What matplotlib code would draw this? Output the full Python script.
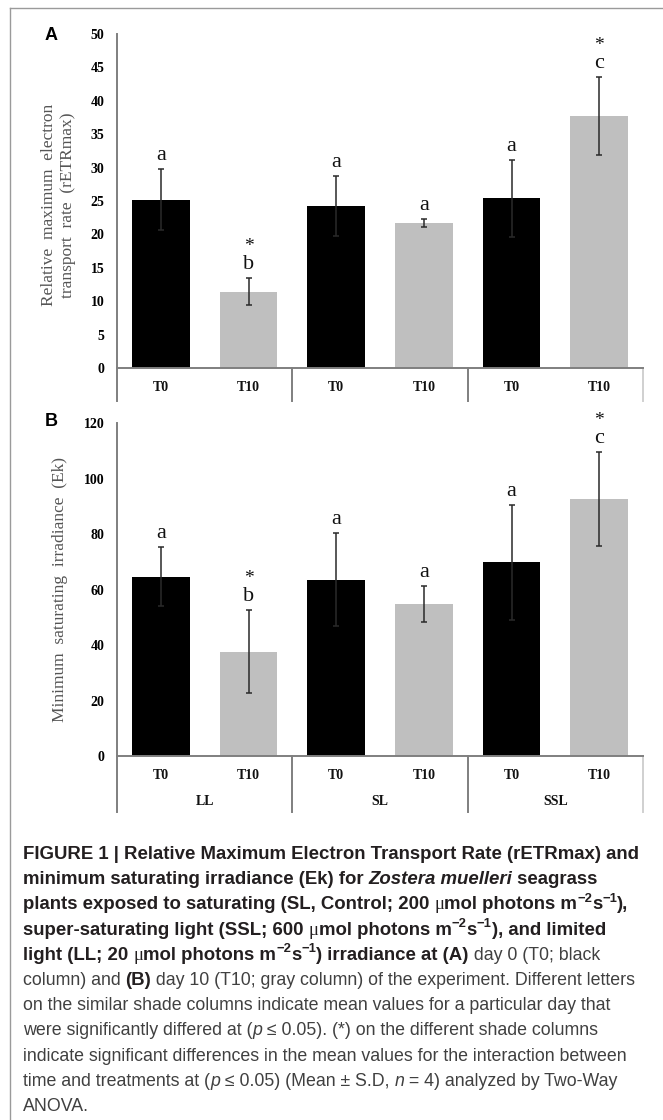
import numpy as np
import matplotlib
matplotlib.use("Agg")
import matplotlib.pyplot as plt
from matplotlib.lines import Line2D
from matplotlib.font_manager import FontProperties

# data
slots = ["T0", "T10", "T0", "T10", "T0", "T10"]
groups = ["LL", "SL", "SSL"]

retr_mean = [25.2, 11.4, 24.2, 21.7, 25.4, 37.7]
retr_sd = [4.6, 2.0, 4.5, 0.6, 5.8, 5.8]
retr_letters = ["a", "b", "a", "a", "a", "c"]
retr_star = [False, True, False, False, False, True]

ek_mean = [64.6, 37.6, 63.5, 54.8, 69.8, 92.5]
ek_sd = [10.6, 15.0, 16.8, 6.4, 20.7, 17.0]
ek_letters = ["a", "b", "a", "a", "a", "c"]
ek_star = [False, True, False, False, False, True]

bar_colors = ["#000000", "#bfbfbf"] * 3
SERIF = "Liberation Serif"
SANS = "Liberation Sans"

W, H = 663, 1120
fig = plt.figure(figsize=(W / 100, H / 100), dpi=100)


def px_axes(l, t, r, b):
    return fig.add_axes([l / W, 1 - b / H, (r - l) / W, (b - t) / H])


def panel(ax, means, sds, letters, stars, ymax, step, div_px, with_groups):
    x = np.arange(len(means))
    ax.bar(x, means, width=0.66, color=bar_colors, zorder=2)
    ax.errorbar(x, means, yerr=sds, fmt="none", ecolor="#2a2a2a",
                elinewidth=1.1, capsize=2, capthick=1.1, zorder=3)
    ax.set_xlim(-0.5, 5.5)
    ax.set_ylim(0, ymax)
    ax.set_yticks(np.arange(0, ymax + 1, step))
    ax.set_yticklabels([str(v) for v in np.arange(0, ymax + 1, step)],
                       family=SERIF, weight="bold", fontsize=10)
    ax.tick_params(axis="y", length=0, pad=9)
    ax.set_xticks([])
    for s in ["top", "right"]:
        ax.spines[s].set_visible(False)
    for s in ["left", "bottom"]:
        ax.spines[s].set_color("#7f7f7f")
        ax.spines[s].set_linewidth(1.4)

    trans = ax.get_xaxis_transform()
    ax_h = ax.get_position().height * H
    # category labels
    for i, lab in enumerate(slots):
        ax.annotate(lab, (i, 0), xycoords=trans, xytext=(0, -14),
                    textcoords="offset points", ha="center", va="center",
                    family=SERIF, weight="bold", fontsize=10, color="#111111")
    if with_groups:
        for g, lab in enumerate(groups):
            ax.annotate(lab, (2 * g + 0.5, 0), xycoords=trans, xytext=(0, -33),
                        textcoords="offset points", ha="center", va="center",
                        family=SERIF, weight="bold", fontsize=10, color="#111111")
    # group dividers
    for k, xd in enumerate([-0.5, 1.5, 3.5, 5.5]):
        col = "#d0d0d0" if k == 3 else "#7f7f7f"
        ax.plot([xd, xd], [0, -div_px / ax_h], transform=trans, color=col,
                lw=1.4, clip_on=False, zorder=1)

    # significance letters and stars
    for i in range(len(means)):
        top = means[i] + sds[i]
        ax.annotate(letters[i], (i, top), xytext=(0, 6.5), textcoords="offset points",
                    ha="center", va="baseline", family=SERIF, fontsize=16,
                    color="#111111", annotation_clip=False)
        if stars[i]:
            ax.annotate("*", (i, top), xytext=(0, 19.5), textcoords="offset points",
                        ha="center", va="baseline", family=SERIF, fontsize=14,
                        color="#111111", annotation_clip=False)


axA = px_axes(117, 34, 643, 368)
panel(axA, retr_mean, retr_sd, retr_letters, retr_star, 50, 5, 33, False)
axB = px_axes(117, 423, 643, 756)
panel(axB, ek_mean, ek_sd, ek_letters, ek_star, 120, 20, 56, True)

# y labels
ylab_kw = dict(rotation=90, ha="center", va="center", family=SERIF,
               fontsize=12.5, color="#555555")
fig.text(49 / W, 1 - 205 / H, "Relative  maximum  electron", **ylab_kw)
fig.text(68 / W, 1 - 205 / H, "transport  rate  (rETRmax)", **ylab_kw)
fig.text(60 / W, 1 - 590 / H, "Minimum  saturating  irradiance  (Ek)", **ylab_kw)

# panel letters
fig.text(51 / W, 1 - 36 / H, "A", family=SANS, weight="bold", fontsize=13,
         ha="center", va="center")
fig.text(51 / W, 1 - 422 / H, "B", family=SANS, weight="bold", fontsize=13,
         ha="center", va="center")

# frame
fig.add_artist(Line2D([10 / W, 1], [1 - 8 / H, 1 - 8 / H], color="#9a9a9a", lw=1))
fig.add_artist(Line2D([10 / W, 10 / W], [1 - 8 / H, 0], color="#9a9a9a", lw=1))

# caption
renderer = fig.canvas.get_renderer()


def seg_width(s, fp):
    t1 = fig.text(0, 0, "|" + s + "|", fontproperties=fp)
    t2 = fig.text(0, 0, "||", fontproperties=fp)
    w = t1.get_window_extent(renderer).width - t2.get_window_extent(renderer).width
    t1.remove()
    t2.remove()
    return w


line0 = "FIGURE 1 | Relative Maximum Electron Transport Rate (rETRmax) and"
line8 = "indicate significant differences in the mean values for the interaction between"
bsize = 10 * 618 / seg_width(line0, FontProperties(family=SANS, weight="bold", size=10))
rsize = 10 * 609 / seg_width(line8, FontProperties(family=SANS, size=10))

styles = {
    "B": (FontProperties(family=SANS, weight="bold", size=bsize), "#231f20", 0),
    "BI": (FontProperties(family=SANS, weight="bold", style="italic", size=bsize), "#231f20", 0),
    "S": (FontProperties(family=SANS, weight="bold", size=bsize * 0.7), "#231f20", bsize * 0.42),
    "M": (FontProperties(family=SERIF, size=bsize), "#231f20", 0),
    "R": (FontProperties(family=SANS, size=rsize), "#404040", 0),
    "I": (FontProperties(family=SANS, style="italic", size=rsize), "#404040", 0),
}

caption = [
    [("FIGURE 1 | Relative Maximum Electron Transport Rate (rETRmax) and", "B")],
    [("minimum saturating irradiance (Ek) for ", "B"), ("Zostera muelleri", "BI"), (" seagrass", "B")],
    [("plants exposed to saturating (SL, Control; 200 ", "B"), ("μ", "M"), ("mol photons m", "B"),
     ("−2", "S"), ("s", "B"), ("−1", "S"), ("),", "B")],
    [("super-saturating light (SSL; 600 ", "B"), ("μ", "M"), ("mol photons m", "B"),
     ("−2", "S"), ("s", "B"), ("−1", "S"), ("), and limited", "B")],
    [("light (LL; 20 ", "B"), ("μ", "M"), ("mol photons m", "B"), ("−2", "S"), ("s", "B"),
     ("−1", "S"), (") irradiance at (A)", "B"), (" day 0 (T0; black", "R")],
    [("column) and ", "R"), ("(B)", "B"), (" day 10 (T10; gray column) of the experiment. Different letters", "R")],
    [("on the similar shade columns indicate mean values for a particular day that", "R")],
    [("were significantly differed at (", "R"), ("p", "I"), (" ≤ 0.05). (*) on the different shade columns", "R")],
    [(line8, "R")],
    [("time and treatments at (", "R"), ("p", "I"), (" ≤ 0.05) (Mean ± S.D, ", "R"), ("n", "I"),
     (" = 4) analyzed by Two-Way", "R")],
    [("ANOVA.", "R")],
]

for i, segs in enumerate(caption):
    x = 23.0
    y = 853 + 25.2 * i + 6
    for text, st in segs:
        fp, col, rise = styles[st]
        fig.text(x / W, 1 - (y - rise * 100 / 72) / H, text, fontproperties=fp,
                 color=col, va="baseline", ha="left")
        x += seg_width(text, fp)

fig.savefig("out.png", dpi=100)
